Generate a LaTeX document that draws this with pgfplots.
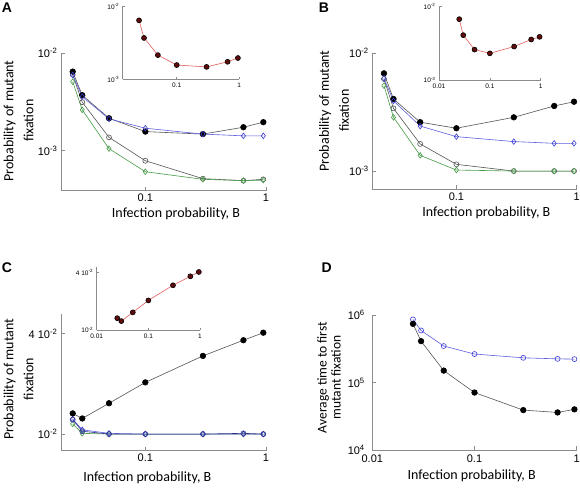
\documentclass[border=0pt]{standalone}
\usepackage{fontspec}
\setmainfont{Carlito}
\newfontfamily\arialf{Liberation Sans}
\usepackage{pgfplots}
\pgfplotsset{compat=1.18}
\definecolor{axgray}{RGB}{140,140,140}
\definecolor{dline}{RGB}{85,85,85}
\definecolor{bline}{RGB}{95,95,225}
\definecolor{bmark}{RGB}{60,60,210}
\definecolor{gline}{RGB}{70,155,70}
\definecolor{rline}{RGB}{228,95,95}
\definecolor{dred}{RGB}{95,12,12}
\definecolor{navy}{RGB}{45,45,140}
\tikzset{
  bfill/.style={color=dline, line width=0.6pt, mark=*, mark size=2.8pt, mark options={fill=black, draw=black, solid}},
  bopen/.style={color=dline, line width=0.6pt, mark=o, mark size=2.5pt, mark options={draw=dline, solid}},
  gdia/.style={color=gline, line width=0.6pt, mark=diamond, mark size=2.8pt, mark options={draw=gline, solid}},
  bdia/.style={color=bline, line width=0.6pt, mark=diamond, mark size=2.8pt, mark options={draw=bmark, solid}},
  rins/.style={color=rline, line width=0.6pt, mark=*, mark size=2.5pt, mark options={fill=dred, draw=black, solid}},
}
\newcommand{\sci}[1]{10\textsuperscript{#1}}
\begin{document}
\begin{tikzpicture}
\useasboundingbox (0pt,0pt) rectangle (580pt,490pt);
\fill[white] (0pt,0pt) rectangle (580pt,490pt);

% ---------------- Panel A main
\begin{axis}[xmode=log, ymode=log, scale only axis, anchor=south west,
  axis x line*=bottom, axis y line*=left,
  axis line style={draw=axgray, line width=0.8pt},
  major tick style={draw=axgray, line width=0.8pt},
  major tick length=4pt, tick align=inside, clip=false,
  xminorticks=false, yminorticks=false,
  tick label style={font=\arialf\fontsize{11}{12}\selectfont},
  at={(61pt,299.3pt)}, width=205pt, height=137.7pt,
  xmin=0.02, xmax=1, ymin=3.9e-4, ymax=1e-2,
  xtick={0.1,1}, xticklabels={0.1,1},
  ytick={1e-3,1e-2}, yticklabels={\sci{-3},\sci{-2}}]
\addplot[bopen] coordinates {(0.025,6.0e-3)(0.03,3.14e-3)(0.05,1.37e-3)(0.1,7.9e-4)(0.3,5.18e-4)(0.65,4.94e-4)(0.95,5.1e-4)};
\addplot[gdia] coordinates {(0.025,5.09e-3)(0.03,2.62e-3)(0.05,1.05e-3)(0.1,6.1e-4)(0.3,5.1e-4)(0.65,4.95e-4)(0.95,5.0e-4)};
\addplot[bfill] coordinates {(0.025,6.45e-3)(0.03,3.7e-3)(0.05,2.15e-3)(0.1,1.57e-3)(0.3,1.48e-3)(0.65,1.74e-3)(0.95,1.96e-3)};
\addplot[bdia] coordinates {(0.025,5.97e-3)(0.03,3.58e-3)(0.05,2.12e-3)(0.1,1.70e-3)(0.3,1.48e-3)(0.65,1.42e-3)(0.95,1.42e-3)};
\end{axis}
% ---------------- Panel A inset
\begin{axis}[xmode=log, ymode=log, scale only axis, anchor=south west,
  axis x line*=bottom, axis y line*=left,
  axis line style={draw=axgray, line width=0.6pt},
  major tick style={draw=axgray, line width=0.6pt},
  major tick length=2.5pt, tick align=inside, clip=false,
  xminorticks=false, yminorticks=false,
  tick label style={font=\arialf\fontsize{6.5}{7}\selectfont},
  at={(122.7pt,410.7pt)}, width=116.6pt, height=72.8pt,
  xmin=0.0137, xmax=1, ymin=1e-3, ymax=1e-2,
  xtick={0.1,1}, xticklabels={0.1,1},
  ytick={1e-3,1e-2}, yticklabels={\sci{-3},\sci{-2}}]
\addplot[rins] coordinates {(0.025,6.45e-3)(0.03,3.7e-3)(0.05,2.15e-3)(0.1,1.57e-3)(0.3,1.48e-3)(0.65,1.74e-3)(0.95,1.96e-3)};
\end{axis}

% ---------------- Panel B main
\begin{axis}[xmode=log, ymode=log, scale only axis, anchor=south west,
  axis x line*=bottom, axis y line*=left,
  axis line style={draw=axgray, line width=0.8pt},
  major tick style={draw=axgray, line width=0.8pt},
  major tick length=4pt, tick align=inside, clip=false,
  xminorticks=false, yminorticks=false,
  tick label style={font=\arialf\fontsize{11}{12}\selectfont},
  at={(372.3pt,300.7pt)}, width=204.4pt, height=136pt,
  xmin=0.02, xmax=1, ymin=7e-4, ymax=1e-2,
  xtick={0.1,1}, xticklabels={0.1,1},
  ytick={1e-3,1e-2}, yticklabels={\sci{-3},\sci{-2}}]
\addplot[bopen] coordinates {(0.025,6.05e-3)(0.03,3.41e-3)(0.05,1.70e-3)(0.1,1.14e-3)(0.3,1.0e-3)(0.65,1.0e-3)(0.95,1.0e-3)};
\addplot[gdia] coordinates {(0.025,5.31e-3)(0.03,2.86e-3)(0.05,1.36e-3)(0.1,1.02e-3)(0.3,1.0e-3)(0.65,1.0e-3)(0.95,1.0e-3)};
\addplot[bfill] coordinates {(0.025,6.76e-3)(0.03,4.09e-3)(0.05,2.6e-3)(0.1,2.31e-3)(0.3,2.86e-3)(0.65,3.57e-3)(0.95,3.88e-3)};
\addplot[bdia] coordinates {(0.025,6.13e-3)(0.03,3.95e-3)(0.05,2.41e-3)(0.1,1.96e-3)(0.3,1.78e-3)(0.65,1.72e-3)(0.95,1.72e-3)};
\end{axis}
% ---------------- Panel B inset
\begin{axis}[xmode=log, ymode=log, scale only axis, anchor=south west,
  axis x line*=bottom, axis y line*=left,
  axis line style={draw=axgray, line width=0.6pt},
  major tick style={draw=axgray, line width=0.6pt},
  major tick length=2.5pt, tick align=inside, clip=false,
  xminorticks=false, yminorticks=false,
  tick label style={font=\arialf\fontsize{6.5}{7}\selectfont},
  at={(439pt,410pt)}, width=101.7pt, height=73.3pt,
  xmin=0.01, xmax=1, ymin=1e-3, ymax=1e-2,
  xtick={0.01,0.1,1}, xticklabels={0.01,0.1,1},
  ytick={1e-3,1e-2}, yticklabels={\sci{-3},\sci{-2}}]
\addplot[rins] coordinates {(0.025,6.76e-3)(0.03,4.09e-3)(0.05,2.6e-3)(0.1,2.31e-3)(0.3,2.86e-3)(0.65,3.57e-3)(0.95,3.88e-3)};
\end{axis}

% ---------------- Panel C main
\begin{axis}[xmode=log, ymode=log, scale only axis, anchor=south west,
  axis x line*=bottom, axis y line*=left,
  axis line style={draw=axgray, line width=0.8pt},
  major tick style={draw=axgray, line width=0.8pt},
  major tick length=4pt, tick align=inside, clip=false,
  xminorticks=false, yminorticks=false,
  tick label style={font=\arialf\fontsize{11}{12}\selectfont},
  at={(61pt,39.3pt)}, width=205pt, height=136.7pt,
  xmin=0.02, xmax=1, ymin=7.95e-3, ymax=0.0524,
  xtick={0.1,1}, xticklabels={0.1,1},
  ytick={0.01,0.04}, yticklabels={\sci{-2},4 \sci{-2}}]
\addplot[gdia] coordinates {(0.025,1.15e-2)(0.03,1.01e-2)(0.05,1.0e-2)(0.1,1.0e-2)(0.3,1.0e-2)(0.65,1.0e-2)(0.95,1.0e-2)};
\addplot[bdia] coordinates {(0.025,1.23e-2)(0.03,1.06e-2)(0.05,1.01e-2)(0.1,1.0e-2)(0.3,1.0e-2)(0.65,1.0e-2)(0.95,1.0e-2)};
\addplot[bopen, color=navy, mark options={draw=navy}] coordinates {(0.025,1.22e-2)(0.03,1.04e-2)(0.05,1.0e-2)(0.1,1.0e-2)(0.3,1.0e-2)(0.65,1.01e-2)(0.95,1.0e-2)};
\addplot[bfill] coordinates {(0.025,1.33e-2)(0.03,1.24e-2)(0.05,1.53e-2)(0.1,2.04e-2)(0.3,2.94e-2)(0.65,3.65e-2)(0.95,4.05e-2)};
\end{axis}
% ---------------- Panel C inset
\begin{axis}[xmode=log, ymode=log, scale only axis, anchor=south west,
  axis x line*=bottom, axis y line*=left,
  axis line style={draw=axgray, line width=0.6pt},
  major tick style={draw=axgray, line width=0.6pt},
  major tick length=2.5pt, tick align=inside, clip=false,
  xminorticks=false, yminorticks=false,
  tick label style={font=\arialf\fontsize{6.5}{7}\selectfont},
  at={(96.7pt,160pt)}, width=103.3pt, height=63.3pt,
  xmin=0.01, xmax=1, ymin=1e-2, ymax=0.046,
  xtick={0.01,0.1,1}, xticklabels={0.01,0.1,1},
  ytick={0.01,0.04}, yticklabels={\sci{-2},4 \sci{-2}}]
\addplot[rins] coordinates {(0.025,1.33e-2)(0.03,1.24e-2)(0.05,1.53e-2)(0.1,2.04e-2)(0.3,2.94e-2)(0.65,3.65e-2)(0.95,4.05e-2)};
\end{axis}

% ---------------- Panel D main
\begin{axis}[xmode=log, ymode=log, scale only axis, anchor=south west,
  axis x line*=bottom, axis y line*=left,
  axis line style={draw=axgray, line width=0.8pt},
  major tick style={draw=axgray, line width=0.8pt},
  major tick length=4pt, tick align=inside, clip=false,
  xminorticks=false, yminorticks=false,
  tick label style={font=\arialf\fontsize{11}{12}\selectfont},
  yticklabel style={xshift=-4pt}, xticklabel style={yshift=-1pt},
  at={(372.3pt,40pt)}, width=204.4pt, height=135pt,
  xmin=0.01, xmax=1, ymin=1e4, ymax=1e6,
  xtick={0.01,0.1,1}, xticklabels={0.01,0.1,1},
  ytick={1e4,1e5,1e6}, yticklabels={\sci{4},\sci{5},\sci{6}}]
\addplot[bopen, color=bline, mark options={draw=bmark}] coordinates {(0.025,8.6e5)(0.03,5.9e5)(0.05,3.47e5)(0.1,2.64e5)(0.3,2.32e5)(0.65,2.24e5)(0.95,2.22e5)};
\addplot[bfill] coordinates {(0.025,7.4e5)(0.03,4.1e5)(0.05,1.5e5)(0.1,7.1e4)(0.3,3.9e4)(0.65,3.6e4)(0.95,4.0e4)};
\end{axis}

% ---------------- Labels
\tikzset{plab/.style={inner sep=0pt, align=center, font=\fontsize{14}{20}\selectfont}}
\node[plab, rotate=90] at (18.5pt,369.2pt) {Probability of mutant\\fixation};
\node[plab, rotate=90] at (334pt,379.2pt) {Probability of mutant\\fixation};
\node[plab, rotate=90] at (18.5pt,111pt) {Probability of mutant\\fixation};
\node[plab, rotate=90, font=\fontsize{13.5}{14}\selectfont] at (329pt,112.5pt) {Average time to first\\mutant fixation};
\node[plab] at (176pt,276pt) {Infection probability, B};
\node[plab] at (486.3pt,277pt) {Infection probability, B};
\node[plab] at (147.3pt,12.7pt) {Infection probability, B};
\node[plab] at (471.7pt,14.3pt) {Infection probability, B};
\tikzset{plet/.style={inner sep=0pt, font=\arialf\bfseries\fontsize{14}{16}\selectfont}}
\node[plet] at (7pt,482pt) {A};
\node[plet] at (324pt,482pt) {B};
\node[plet] at (7pt,222.5pt) {C};
\node[plet] at (326.7pt,222pt) {D};
\end{tikzpicture}
\end{document}
